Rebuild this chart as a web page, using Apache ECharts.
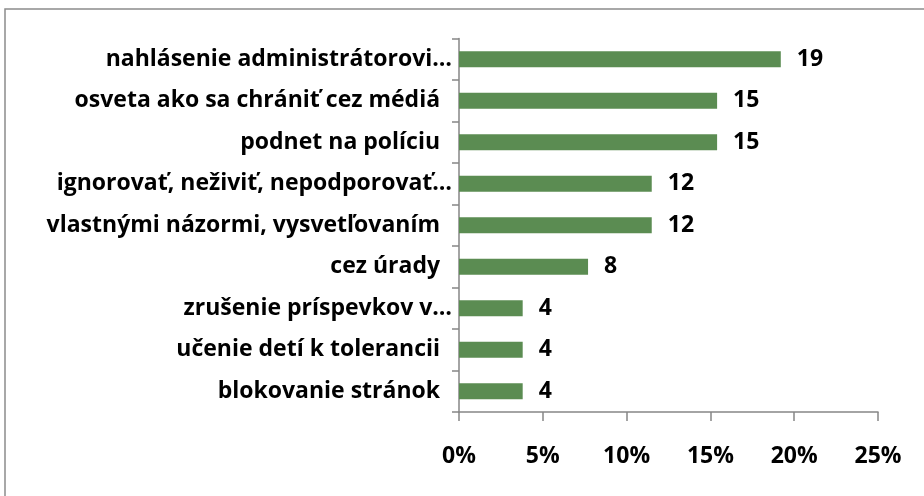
<!DOCTYPE html>
<html>
<head>
<meta charset="utf-8">
<script src="https://cdn.jsdelivr.net/npm/echarts@6/dist/echarts.min.js"></script>
<style>
    html, body { margin: 0; padding: 0; background: #ffffff; }
    #chart01 { width: 924px; height: 496px; }
</style>
</head>
<body>
<div id="chart01"></div>
<script>
var categories = [
    'nahlásenie administrátorovi…',
    'osveta ako sa chrániť cez médiá  ',
    'podnet na políciu  ',
    'ignorovať, neživiť, nepodporovať…',
    'vlastnými názormi, vysvetľovaním  ',
    'cez úrady  ',
    'zrušenie príspevkov v…',
    'učenie detí k tolerancii  ',
    'blokovanie stránok  '
];
var percentValues = [19.2, 15.4, 15.4, 11.5, 11.5, 7.7, 3.8, 3.8, 3.8];
var countLabels = [19, 15, 15, 12, 12, 8, 4, 4, 4];
var xTicks = [0, 5, 10, 15, 20, 25];

function chart01(id) {
    var myChart = echarts.init(document.getElementById(id));
    var font = 'Open Sans';
    var option = {
        animation: false,
        graphic: [
            {
                type: 'rect',
                shape: { x: 5, y: 9, width: 940, height: 520 },
                style: { fill: 'none', stroke: '#8c8c8c', lineWidth: 1.5 }
            }
        ],
        grid: {
            left: 459,
            right: 46,
            top: 38.5,
            bottom: 84
        },
        xAxis: {
            type: 'value',
            min: xTicks[0],
            max: xTicks[xTicks.length - 1],
            interval: 5,
            axisLine: {
                show: true,
                lineStyle: { color: '#868686', width: 1.5 }
            },
            axisTick: {
                show: true,
                length: 9,
                lineStyle: { color: '#868686', width: 1.5 }
            },
            splitLine: { show: false },
            axisLabel: {
                margin: 33,
                fontFamily: font,
                fontWeight: 'bold',
                fontSize: 23,
                color: '#000000',
                formatter: '{value}%'
            }
        },
        yAxis: {
            type: 'category',
            inverse: true,
            data: categories,
            axisLine: {
                show: true,
                lineStyle: { color: '#868686', width: 1.5 }
            },
            axisTick: {
                show: true,
                length: 7,
                lineStyle: { color: '#868686', width: 1.5 }
            },
            axisLabel: {
                margin: 7,
                fontFamily: font,
                fontWeight: 'bold',
                fontSize: 23,
                color: '#000000'
            }
        },
        series: [
            {
                type: 'bar',
                barWidth: 16,
                itemStyle: { color: '#5b8c52' },
                label: {
                    show: true,
                    position: 'right',
                    distance: 16,
                    fontFamily: font,
                    fontWeight: 'bold',
                    fontSize: 23,
                    color: '#000000',
                    formatter: function (p) { return countLabels[p.dataIndex]; }
                },
                data: percentValues
            }
        ]
    };
    myChart.setOption(option);
    return myChart;
}

var chartInit01 = chart01('chart01');
window.addEventListener('resize', function () { chartInit01.resize(); });
</script>
</body>
</html>
